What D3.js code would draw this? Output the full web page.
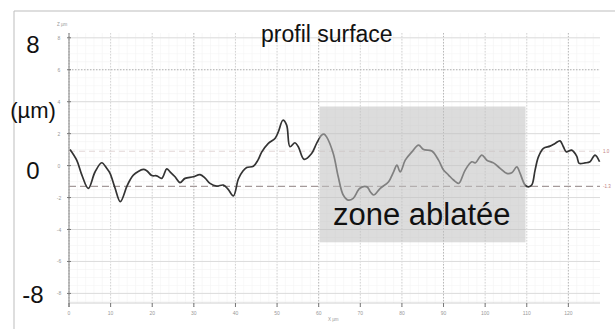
<!DOCTYPE html>
<html><head><meta charset="utf-8">
<script src="https://cdn.jsdelivr.net/npm/d3@7/dist/d3.min.js"></script>
<style>html,body{margin:0;padding:0;background:#fff;}svg{display:block;font-family:"Liberation Sans",Arial,sans-serif;}</style>
</head><body>
<script>
// profile data: x in µm, z in µm
const profileX = [0.24,1.85,3.1,4.64,6.25,7.86,9.06,9.86,11.06,12.33,13.87,14.66,15.46,17.86,18.68,19.88,21.08,22.28,23.49,24.28,25.48,26.68,27.88,29.88,31.49,32.7,33.89,35.5,37.09,38.2,39.5,40.7,41.8,42.7,44.3,45.4,46.3,47.9,49.5,50.3,51.4,52.3,53.1,54.3,55.1,56.5,58.3,59.5,60.7,61.3,61.9,63.5,64.7,65.9,67.1,68.3,69.9,71.6,72.4,73.2,74.8,76.8,78.0,78.8,79.6,80.8,82.4,84.0,85.2,87.2,88.8,90.0,91.2,92.4,93.6,94.0,95.2,96.8,97.6,99.2,100.4,102.0,103.6,105.2,106.4,107.6,108.4,109.6,110.4,111.2,112.0,112.8,114.0,115.6,116.8,118.0,118.8,119.5,120.8,122.0,122.6,124.0,125.2,126.4,127.5];
const profileZ = [1.01,0.34,-0.6,-1.43,-0.4,0.18,-0.17,-0.49,-1.4,-2.26,-1.32,-0.9,-0.59,-0.24,-0.32,-0.62,-0.64,-0.8,-0.2,-0.39,-0.7,-1.06,-0.8,-0.7,-0.56,-0.78,-1.11,-1.28,-1.22,-1.47,-1.9,-0.84,-0.34,-0.12,-0.04,0.34,0.84,1.39,1.7,2.11,2.84,2.53,1.18,1.43,1.18,0.39,0.76,1.39,1.91,1.97,1.8,0.76,-0.7,-1.84,-2.16,-2.05,-1.42,-1.33,-1.64,-1.84,-1.42,-1.01,-0.39,0.03,-0.39,0.34,0.86,1.28,1.01,0.92,0.34,-0.28,-0.59,-0.9,-1.11,-1.01,-0.28,0.24,0.17,0.66,0.34,0.17,-0.17,-0.49,-0.45,-0.08,-0.49,-1.22,-1.33,-1.22,-0.28,0.55,1.08,1.22,1.39,1.55,1.18,0.86,0.97,0.59,0.14,0.17,0.24,0.66,0.24];
const xTicks = [0,10,20,30,40,50,60,70,80,90,100,110,120];
const yTicks = [8,6,4,2,0,-2,-4,-6,-8];
const bigYLabels = [{v:8,t:"8"},{v:0,t:"0"},{v:-8,t:"-8"}];
const unitLabel = "(µm)";
const title = "profil surface";
const zoneLabel = "zone ablatée";
const zoneRange = [60.2, 109.7];   // x extent of ablated zone
const zoneZ = [3.7, -4.8];        // z extent of shaded box
const levelLow = -1.3, levelHigh = 0.9;

const W = 615, H = 329;
const svg = d3.select("body").append("svg").attr("width", W).attr("height", H);

const x = d3.scaleLinear().domain([0, 127.6]).range([69, 600]);
const y = d3.scaleLinear().domain([-8.6, 8.3]).range([303, 33]);

// outer frame
svg.append("path").attr("d", `M14,${H} L14,11 L${W},11`).attr("fill","none").attr("stroke","#bdbdbd").attr("stroke-width",1);

// minor grid
const g = svg.append("g");
g.selectAll(".mx").data(d3.range(0, 127.6, 2)).join("line")
  .attr("x1", d=>x(d)).attr("x2", d=>x(d)).attr("y1", y(8.3)).attr("y2", y(-8.6))
  .attr("stroke","#f3f3f3").attr("stroke-width",0.6);
g.selectAll(".my").data(d3.range(-8.5, 8.3, 0.5)).join("line")
  .attr("x1", x(0)).attr("x2", x(127.6)).attr("y1", d=>y(d)).attr("y2", d=>y(d))
  .attr("stroke","#f3f3f3").attr("stroke-width",0.6);

// major grid
g.selectAll(".gx").data(xTicks).join("line")
  .attr("x1", d=>x(d)).attr("x2", d=>x(d)).attr("y1", y(8.3)).attr("y2", y(-8.6)+4)
  .attr("stroke", d => (d%30===0 ? "#b8b8b8" : "#d4d4d4")).attr("stroke-width",1)
  .attr("stroke-dasharray","1.5,1.5");
g.selectAll(".gy").data(yTicks).join("line")
  .attr("x1", x(0)).attr("x2", x(127.6)).attr("y1", d=>y(d)).attr("y2", d=>y(d))
  .attr("stroke", d => d===6 ? "#b0b0b0" : "#dcdcdc").attr("stroke-width",1)
  .attr("stroke-dasharray", d => d===6 ? "1.5,1.5" : null);

// bottom axis line & left axis line
svg.append("line").attr("x1", x(0)).attr("x2", x(127.6)).attr("y1", y(-8.6)).attr("y2", y(-8.6)).attr("stroke","#d0d0d0");
svg.append("line").attr("x1", x(0)).attr("x2", x(0)).attr("y1", y(8.3)).attr("y2", y(-8.6)+4).attr("stroke","#888").attr("stroke-width",1);
svg.selectAll(".ytk").data(yTicks).join("line")
  .attr("x1", x(0)-2).attr("x2", x(0)+2).attr("y1", d=>y(d)).attr("y2", d=>y(d)).attr("stroke","#777");
svg.selectAll(".xtk").data(xTicks).join("line")
  .attr("x1", d=>x(d)).attr("x2", d=>x(d)).attr("y1", y(-8.6)).attr("y2", y(-8.6)+4).attr("stroke","#777");

// reference level lines
svg.append("line").attr("x1", x(0)).attr("x2", x(127.6)).attr("y1", y(levelHigh)).attr("y2", y(levelHigh))
  .attr("stroke","#e2d6d6").attr("stroke-width",1).attr("stroke-dasharray","6,4");
svg.append("line").attr("x1", x(0)).attr("x2", x(127.6)).attr("y1", y(levelLow)).attr("y2", y(levelLow))
  .attr("stroke","#a59a9a").attr("stroke-width",1.2).attr("stroke-dasharray","7,4");
svg.append("text").attr("x", 603).attr("y", y(levelHigh)+2).attr("font-size",4.5).attr("fill","#c08080").text("1.0");
svg.append("text").attr("x", 603).attr("y", y(levelLow)+2).attr("font-size",4.5).attr("fill","#c08080").text("-1.3");

// small tick labels
svg.selectAll(".ytl").data(yTicks).join("text")
  .attr("x", 59).attr("y", d=>y(d)+2).attr("text-anchor","middle").attr("font-size",5).attr("fill","#999").text(d=>d);
svg.selectAll(".xtl").data(xTicks).join("text")
  .attr("x", d=>x(d)).attr("y", 315).attr("text-anchor","middle").attr("font-size",5).attr("fill","#999").text(d=>d);
svg.append("text").attr("x", 57).attr("y", 26).attr("font-size",4.5).attr("fill","#999").text("Z µm");
svg.append("text").attr("x", 328).attr("y", 321).attr("font-size",4.5).attr("fill","#999").text("X µm");

// profile line
const line = d3.line().x((d,i)=>x(profileX[i])).y((d,i)=>y(profileZ[i])).curve(d3.curveCatmullRom.alpha(0.5));
svg.append("path").datum(profileZ).attr("d", line).attr("fill","none").attr("stroke","#333").attr("stroke-width",1.7).attr("stroke-linejoin","round");

// ablated zone box
svg.append("rect").attr("x", x(zoneRange[0])).attr("y", y(zoneZ[0]))
  .attr("width", x(zoneRange[1]) - x(zoneRange[0])).attr("height", y(zoneZ[1]) - y(zoneZ[0]))
  .attr("fill","#bfbfbf").attr("fill-opacity",0.55);
svg.append("text").attr("x", 333).attr("y", 225).attr("font-size",31).attr("fill","#111").text(zoneLabel);

// title
svg.append("text").attr("x", 261).attr("y", 42).attr("font-size",23).attr("fill","#111").text(title);

// big y labels
svg.selectAll(".byl").data(bigYLabels).join("text")
  .attr("x", 33).attr("y", d=>y(d.v)+ (d.v===8?15:(d.v===0?13:10))).attr("text-anchor","middle").attr("font-size",24).attr("fill","#111").text(d=>d.t);
svg.append("text").attr("x", 33).attr("y", 118).attr("text-anchor","middle").attr("font-size",22).attr("fill","#111").text(unitLabel);
</script>
</body></html>
